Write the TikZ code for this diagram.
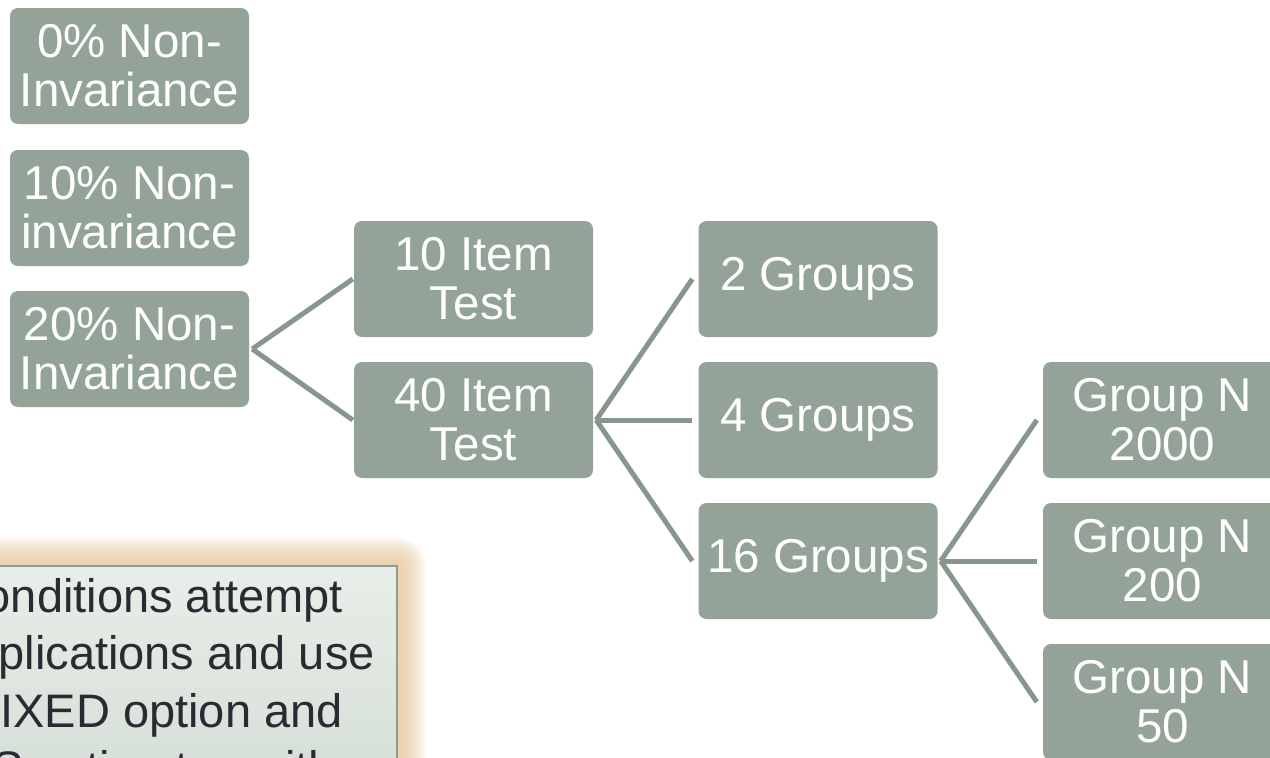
\documentclass[tikz,border=0pt]{standalone}
\usepackage{fontspec}
\setmainfont{Liberation Sans}
\definecolor{boxc}{HTML}{93A398}
\definecolor{linec}{HTML}{87978B}
\definecolor{glowc}{HTML}{E6C8A0}
\definecolor{tboxtop}{HTML}{E8EEE9}
\definecolor{tboxbot}{HTML}{D1DCD3}
\definecolor{tboxline}{HTML}{8E9D92}
\definecolor{txtc}{HTML}{2A2A33}
\begin{document}
\begin{tikzpicture}[x=1pt,y=-1pt,
  gbox/.style={fill=boxc, rounded corners=8pt, minimum width=239pt, minimum height=116pt,
    inner sep=0pt, text=white, align=center, font=\fontsize{47.5}{49}\selectfont},
  conn/.style={draw=linec, line width=5pt},
  tline/.style={anchor=base east, text=txtc, inner sep=0pt, font=\fontsize{47}{57}\selectfont}]
\useasboundingbox (0,0) rectangle (1270,758);
\clip (0,0) rectangle (1270,758);
% glow of the text box
\foreach \i in {1,...,10}{
  \pgfmathsetmacro{\r}{\i*2.8}
  \fill[glowc, opacity=0.16, rounded corners=\r pt] (-80-\r,566-\r) rectangle (397+\r,820);
}
\shade[top color=tboxtop, bottom color=tboxbot] (-80,566) rectangle (397,820);
\draw[tboxline, line width=2pt] (-80,820) -- (-80,566) -- (397,566) -- (397,820);
\node[tline] (t1) at (343,612) {onditions attempt};
\node[tline] (t2) at (375,669) {plications and use};
\node[tline] (t3) at (343,727) {IXED option and};
\node[tline] (t4) at (335,784) {ES estimates with};
% boxes
\node[gbox] (n0)  at (129.5,66)  {0\% Non-\\Invariance};
\node[gbox] (n10) at (129.5,208) {10\% Non-\\invariance};
\node[gbox] (n20) at (129.5,349) {20\% Non-\\Invariance};
\node[gbox] (i10) at (473.5,279) {10 Item\\Test};
\node[gbox] (i40) at (473.5,420) {40 Item\\Test};
\node[gbox] (g2)  at (818,279)   {2 Groups};
\node[gbox] (g4)  at (818,420)   {4 Groups};
\node[gbox] (g16) at (818,561)   {16 Groups};
\node[gbox] (s2000) at (1162.5,420) {Group N\\2000};
\node[gbox] (s200)  at (1162.5,561) {Group N\\200};
\node[gbox] (s50)   at (1162.5,702) {Group N\\50};
% connectors
\draw[conn] ([xshift=3pt]n20.east) -- ([xshift=-1pt]i10.west);
\draw[conn] ([xshift=3pt]n20.east) -- ([xshift=-1pt]i40.west);
\draw[conn] ([xshift=3pt]i40.east) -- ([xshift=-6pt]g2.west);
\draw[conn] ([xshift=3pt]i40.east) -- ([xshift=-6pt]g4.west);
\draw[conn] ([xshift=3pt]i40.east) -- ([xshift=-6pt]g16.west);
\draw[conn] ([xshift=3pt]g16.east) -- ([xshift=-6pt]s2000.west);
\draw[conn] ([xshift=3pt]g16.east) -- ([xshift=-6pt]s200.west);
\draw[conn] ([xshift=3pt]g16.east) -- ([xshift=-6pt]s50.west);
\end{tikzpicture}
\end{document}
